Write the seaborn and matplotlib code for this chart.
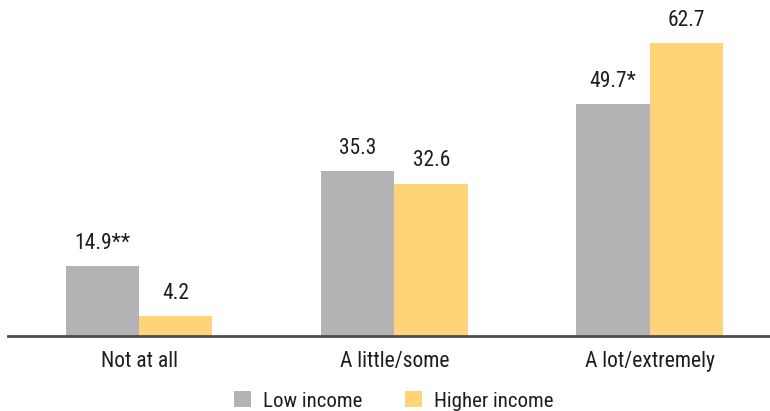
import matplotlib
matplotlib.use("Agg")
import matplotlib.pyplot as plt
from matplotlib import font_manager
import seaborn as sns
import pandas as pd
from matplotlib.patches import Patch

categories = ["Not at all", "A little/some", "A lot/extremely"]
series = ["Low income", "Higher income"]
low_income = [14.9, 35.3, 49.7]
higher_income = [4.2, 32.6, 62.7]
low_labels = ["14.9**", "35.3", "49.7*"]
high_labels = ["4.2", "32.6", "62.7"]
colors = ["#B3B3B5", "#FFD378"]

sns.set_theme(style="white")
installed = set(f.name for f in font_manager.fontManager.ttflist)
candidates = ["Roboto Condensed", "Archivo Narrow", "Barlow Semi Condensed",
              "Asap Condensed", "Liberation Sans Narrow", "Liberation Sans"]
family = next((c for c in candidates if c in installed), "DejaVu Sans")
plt.rcParams['font.family'] = [family, 'DejaVu Sans']

df = pd.DataFrame({
    "category": categories * 2,
    "series": [series[0]] * 3 + [series[1]] * 3,
    "value": low_income + higher_income,
})

fig = plt.figure(figsize=(7.7, 4.11), dpi=100)
ax = fig.add_axes([8 / 770, (411 - 336) / 411, 1 - 8 / 770, 336 / 411])
sns.barplot(data=df, x="category", y="value", hue="series", palette=colors,
            width=0.575, saturation=1, linewidth=0, ax=ax, legend=False)

text_color = "#1F1C1D"
for cont, labs in zip(ax.containers, [low_labels, high_labels]):
    ax.bar_label(cont, labels=labs, padding=9, fontsize=15.5, color=text_color)

ax.set_xlim(-0.513, 2.47)
ax.set_ylim(0, 72)
ax.set_xlabel("")
ax.set_ylabel("")
ax.set_yticks([])
for s in ["top", "right", "left"]:
    ax.spines[s].set_visible(False)
ax.spines["bottom"].set_color("#4D4D4F")
ax.spines["bottom"].set_linewidth(2)
ax.tick_params(axis="x", length=0, pad=11, labelsize=15.5, labelcolor=text_color)

handles = [Patch(facecolor=c, edgecolor="none") for c in colors]
fig.legend(handles, series, loc="center", bbox_to_anchor=(394 / 770, 1 - 401 / 411),
           ncol=2, frameon=False, fontsize=15, handlelength=0.8, handleheight=0.8,
           handletextpad=0.6, columnspacing=2.05, labelcolor=text_color,
           borderpad=0, borderaxespad=0)

fig.savefig("out.png", dpi=100)
